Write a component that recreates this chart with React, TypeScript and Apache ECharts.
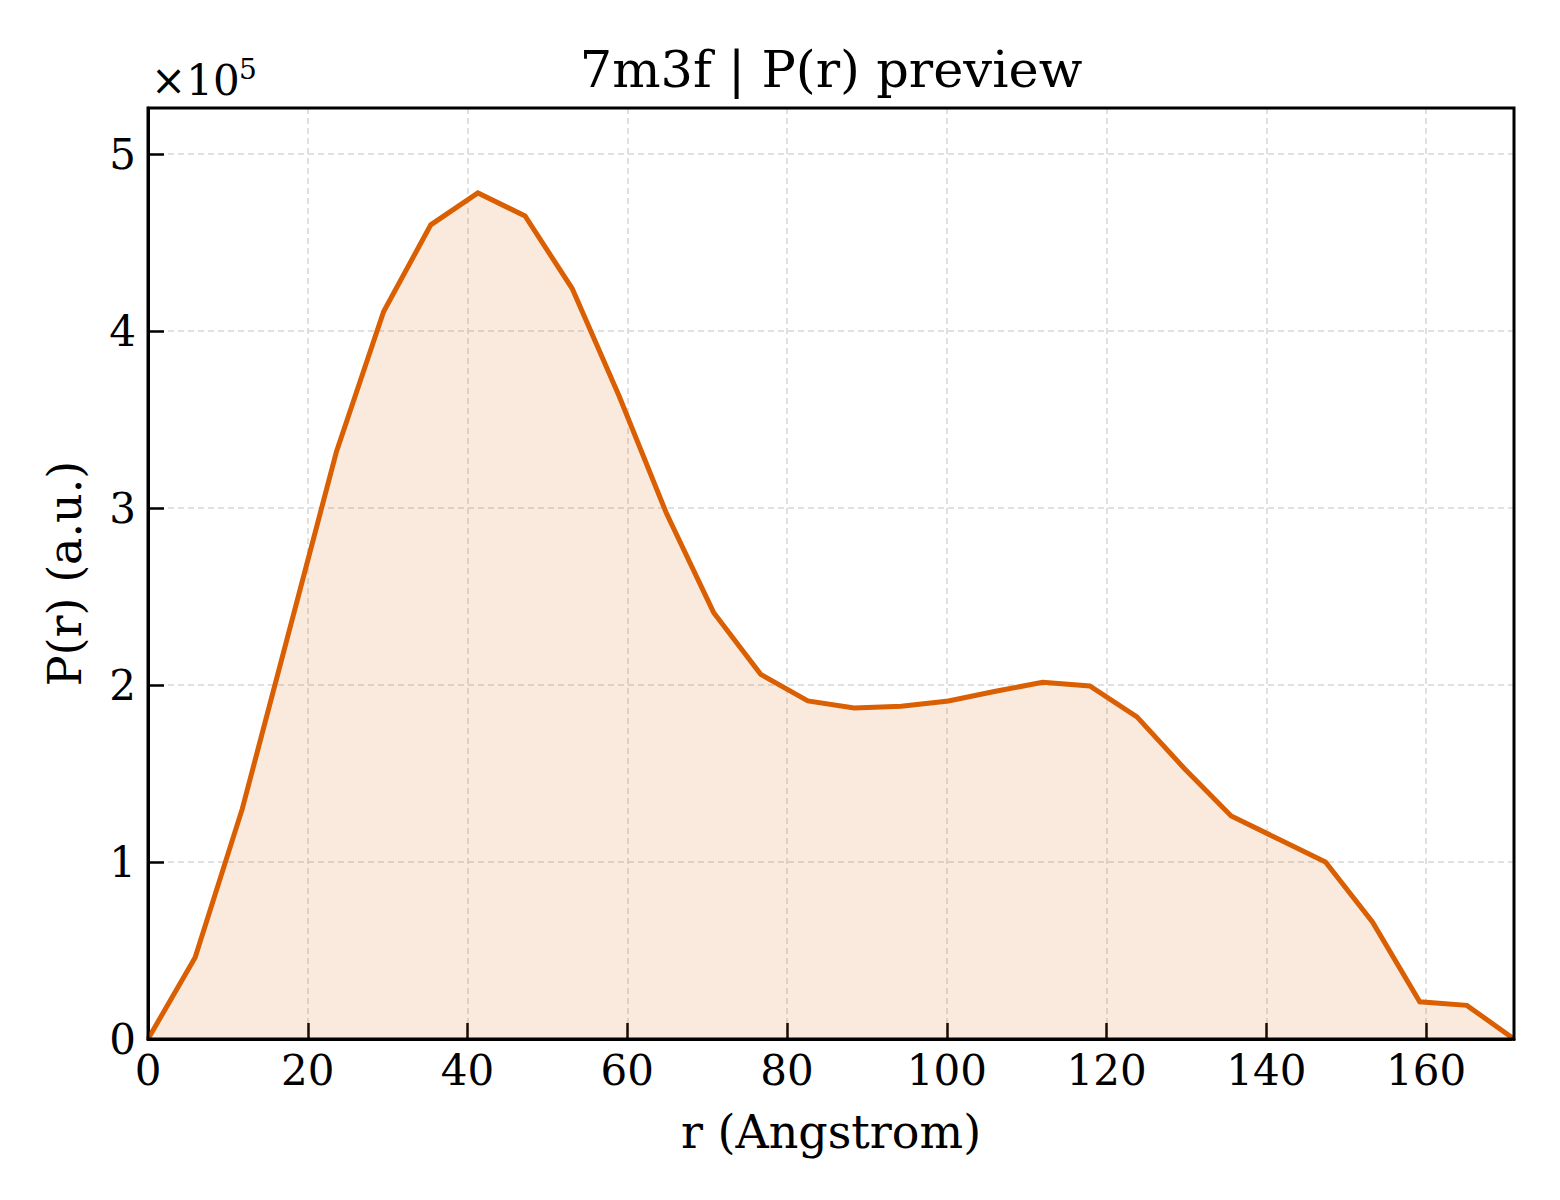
import {useEffect, useRef} from 'react';
import * as echarts from 'echarts';

const rValues = [
    0, 5.9, 11.8, 17.7, 23.6, 29.5, 35.4, 41.3, 47.2, 53.1, 59.0, 64.9, 70.8, 76.7, 82.6, 88.4, 94.3, 100.2, 106.1,
    112.0, 117.9, 123.8, 129.7, 135.6, 141.5, 147.4, 153.3, 159.2, 165.1, 171.0,
];
const prValues = [
    0, 46000, 130000, 231000, 332000, 411000, 460000, 478000, 465000, 424000, 363000, 297000, 241000, 206000, 191000,
    187000, 188000, 191000, 196500, 201500, 199500, 182000, 153000, 126000, 113000, 100000, 66000, 21000, 19000, 0,
];
const rMax = 171;
const pMax = 526000;
const yScale = 1e5;

const titleText = '7m3f | P(r) preview';
const xName = 'r (Angstrom)';
const yName = 'P(r) (a.u.)';

const FONT = '"DejaVu Serif", serif';
const ORANGE = '#d95f02';

const GRID = {left: 148, top: 108, width: 1366, height: 931};

const App = () => {
    const chartRef = useRef<HTMLDivElement>(null);

    useEffect(() => {
        const myChart = echarts.init(chartRef.current!, null, {renderer: 'svg'});

        const option = {
            animation: false,
            backgroundColor: '#fff',
            textStyle: {fontFamily: FONT, color: '#000'},
            title: {
                text: titleText,
                left: 831,
                top: 44,
                textAlign: 'center',
                padding: 0,
                textStyle: {fontFamily: FONT, fontSize: 51, fontWeight: 'normal', color: '#000'},
            },
            grid: {...GRID},
            graphic: [
                // axes frame (matplotlib spines), drawn above everything
                {
                    type: 'rect',
                    z: 100,
                    shape: {x: GRID.left, y: GRID.top, width: GRID.width, height: GRID.height},
                    style: {fill: 'none', stroke: '#000', lineWidth: 3},
                    silent: true,
                },
                // offset text ×10^5
                {
                    type: 'text',
                    x: 151,
                    y: 80,
                    style: {text: '×10', fontFamily: FONT, fontSize: 42, fill: '#000', verticalAlign: 'middle'},
                },
                {
                    type: 'text',
                    x: 239,
                    y: 69,
                    style: {text: '5', fontFamily: FONT, fontSize: 28, fill: '#000', verticalAlign: 'middle'},
                },
            ],
            xAxis: {
                type: 'value',
                min: 0,
                max: rMax,
                interval: 20,
                name: xName,
                nameLocation: 'middle',
                nameGap: 70,
                nameTextStyle: {fontFamily: FONT, fontSize: 46, color: '#000'},
                axisLine: {show: true, lineStyle: {color: '#000', width: 3}},
                axisTick: {show: true, inside: true, length: 16, lineStyle: {color: '#000', width: 2.5}},
                axisLabel: {
                    margin: 10,
                    fontFamily: FONT,
                    fontSize: 42,
                    color: '#000',
                    showMaxLabel: false,
                },
                splitLine: {show: true, lineStyle: {color: '#d6d6d6', width: 1.5, type: [6, 4]}},
            },
            yAxis: {
                type: 'value',
                min: 0,
                max: pMax,
                interval: 100000,
                name: yName,
                nameLocation: 'middle',
                nameGap: 60,
                nameTextStyle: {fontFamily: FONT, fontSize: 46, color: '#000'},
                axisLine: {show: true, lineStyle: {color: '#000', width: 3}},
                axisTick: {show: true, inside: true, length: 16, lineStyle: {color: '#000', width: 2.5}},
                axisLabel: {
                    margin: 12,
                    fontFamily: FONT,
                    fontSize: 42,
                    color: '#000',
                    showMaxLabel: false,
                    formatter: (v: number) => String(Math.round(v / yScale)),
                },
                splitLine: {show: true, lineStyle: {color: '#d6d6d6', width: 1.5, type: [6, 4]}},
            },
            series: [
                {
                    type: 'line',
                    data: rValues.map((r, i) => [r, prValues[i]]),
                    showSymbol: false,
                    lineStyle: {color: ORANGE, width: 5, join: 'miter'},
                    areaStyle: {color: ORANGE, opacity: 0.13},
                },
            ],
        };

        myChart.setOption(option as any);

        return () => {
            myChart.dispose();
        };
    }, []);

    return (
        <div
            ref={chartRef}
            style={{position: 'absolute', left: 0, top: 0, width: '1560px', height: '1200px', background: '#fff'}}
        />
    );
};

export default App;
